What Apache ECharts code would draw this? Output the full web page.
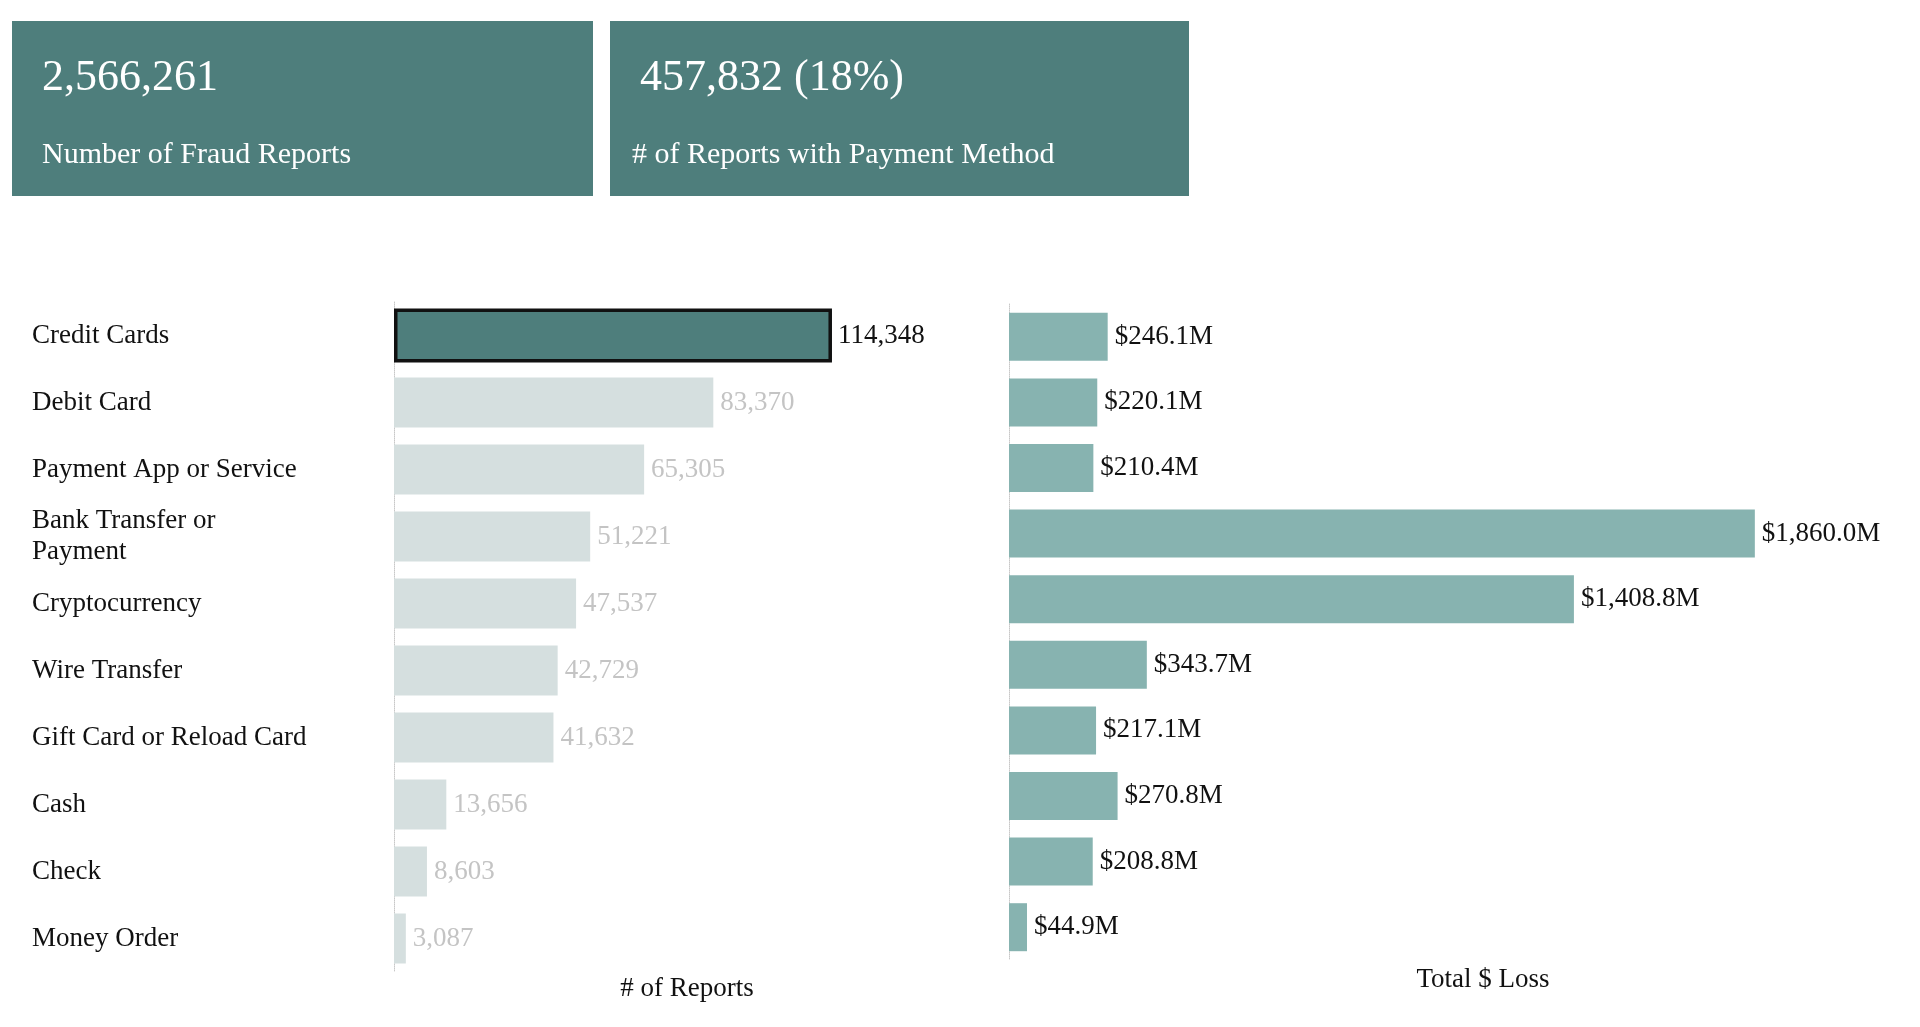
<!DOCTYPE html>
<html><head><meta charset="utf-8">
<script src="https://cdn.jsdelivr.net/npm/echarts@6/dist/echarts.min.js"></script>
<style>html,body{margin:0;padding:0;background:#fff;}#c{width:1920px;height:1027px;}</style>
</head><body><div id="c"></div>
<script>
const categories = ['Credit Cards','Debit Card','Payment App or Service','Bank Transfer or\nPayment','Cryptocurrency','Wire Transfer','Gift Card or Reload Card','Cash','Check','Money Order'];
const reports = [114348, 83370, 65305, 51221, 47537, 42729, 41632, 13656, 8603, 3087];
const lossMillions = [246.1, 220.1, 210.4, 1860.0, 1408.8, 343.7, 217.1, 270.8, 208.8, 44.9];
const kpiValues = ['2,566,261', '457,832 (18%)'];
const kpiLabels = ['Number of Fraud Reports', '# of Reports with Payment Method'];
const highlightIndex = 0;

const FONT = '"Liberation Serif", "Times New Roman", serif';
const TEAL = '#4e7e7c';
const chart = echarts.init(document.getElementById('c'));
const fmtInt = v => v.toLocaleString('en-US');
const fmtM = v => '$' + v.toLocaleString('en-US', {minimumFractionDigits:1, maximumFractionDigits:1}) + 'M';

const boxes = [{x:12, w:581}, {x:610, w:579}];
const graphic = [];
boxes.forEach((b, i) => {
  graphic.push({type:'rect', left:b.x, top:21, shape:{width:b.w, height:175}, style:{fill:TEAL}});
  graphic.push({type:'text', left:b.x + 30, top:56, style:{text:kpiValues[i], fill:'#fff', font:'44px ' + FONT}});
  graphic.push({type:'text', left:b.x + (i ? 22 : 30), top:140, style:{text:kpiLabels[i], fill:'#fff', font:'30px ' + FONT}});
});
graphic.push({type:'text', x:1483, y:980, style:{text:'Total $ Loss', fill:'#111', font:'27px ' + FONT, align:'center', verticalAlign:'middle'}});

chart.setOption({
  animation:false,
  graphic: graphic,
  grid:[
    {left:394, top:302, width:586, height:670},
    {left:1009, top:304, width:891, height:656}
  ],
  xAxis:[
    {gridIndex:0, type:'value', min:0, max:153000, splitLine:{show:false}, axisLine:{show:false}, axisTick:{show:false}, axisLabel:{show:false},
     name:'# of Reports', nameLocation:'middle', nameGap:3, nameTextStyle:{fontFamily:FONT, fontSize:27, color:'#111'}},
    {gridIndex:1, type:'value', min:0, max:2222, splitLine:{show:false}, axisLine:{show:false}, axisTick:{show:false}, axisLabel:{show:false}}
  ],
  yAxis:[
    {gridIndex:0, type:'category', inverse:true, data:categories,
     axisLine:{show:true, lineStyle:{color:'#c8c8c8', type:'dotted', width:1}}, axisTick:{show:false},
     axisLabel:{align:'left', margin:362, fontFamily:FONT, fontSize:27, color:'#111', lineHeight:31}},
    {gridIndex:1, type:'category', inverse:true, data:categories,
     axisLine:{show:true, lineStyle:{color:'#c8c8c8', type:'dotted', width:1}}, axisTick:{show:false}, axisLabel:{show:false}},
    {gridIndex:0, type:'category', inverse:true, data:categories, show:false}
  ],
  series:[
    {type:'bar', xAxisIndex:0, yAxisIndex:0, barWidth:50,
     data: reports.map((v, i) => ({
       value:v,
       itemStyle: {color: i === highlightIndex ? TEAL : '#d5dfdf'},
       label: i === highlightIndex ? {color:'#111', distance:6} : {color:'#c4c4c4', distance:7}
     })),
     label:{show:true, position:'right', fontFamily:FONT, fontSize:27, formatter:p => fmtInt(p.value)}},
    {type:'bar', xAxisIndex:0, yAxisIndex:2, barWidth:54, silent:true,
     data: reports.map((v, i) => i === highlightIndex ? v : null),
     itemStyle:{color:'rgba(0,0,0,0)', borderColor:'#111', borderWidth:3.5}},
    {type:'bar', xAxisIndex:1, yAxisIndex:1, barWidth:48,
     itemStyle:{color:'#87b3b0'},
     data: lossMillions,
     label:{show:true, position:'right', distance:7, fontFamily:FONT, fontSize:27, color:'#111', formatter:p => fmtM(p.value)}}
  ]
});
</script></body></html>
